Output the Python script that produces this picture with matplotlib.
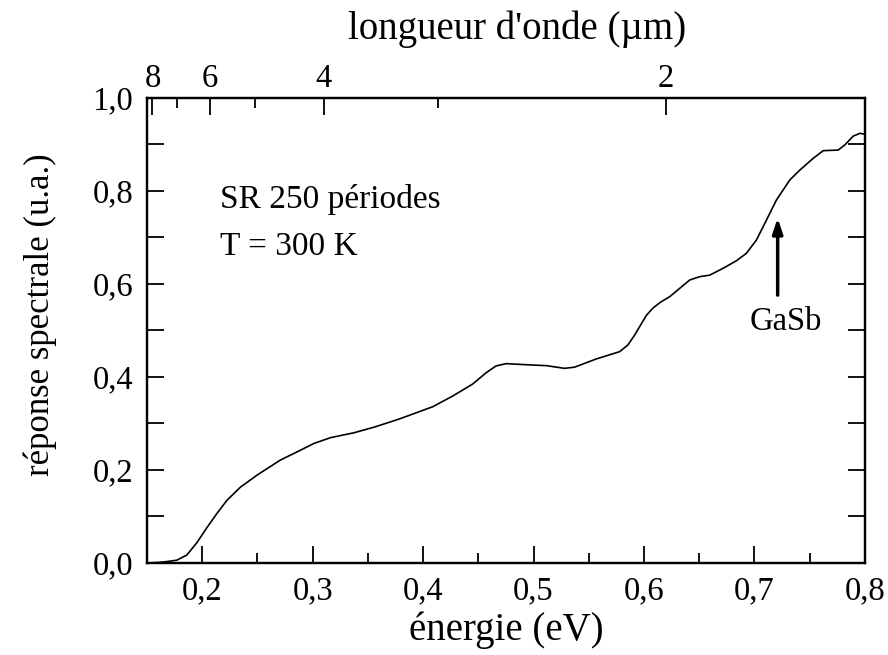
import numpy as np
import matplotlib
matplotlib.use("Agg")
import matplotlib.pyplot as plt
from matplotlib.ticker import MultipleLocator, FixedLocator, NullFormatter

plt.rcParams['font.family'] = ['Liberation Serif', 'DejaVu Serif']

# Spectral response of the superlattice (250 periods, 300 K)
energy_eV = [0.150, 0.160, 0.168, 0.177, 0.186, 0.195, 0.204, 0.2135, 0.2225,
             0.2346, 0.2497, 0.2709, 0.286, 0.3011, 0.3162, 0.3374, 0.3555,
             0.3751, 0.380, 0.4087, 0.4268, 0.445, 0.457, 0.466, 0.4752,
             0.4963, 0.5115, 0.528, 0.537, 0.5567, 0.578, 0.5854, 0.5915,
             0.596, 0.602, 0.608, 0.615, 0.6233, 0.6414, 0.6504, 0.6595,
             0.6716, 0.6837, 0.6927, 0.7018, 0.7109, 0.7199, 0.732, 0.7411,
             0.7531, 0.7622, 0.7758, 0.7818, 0.7894, 0.7955, 0.800]
response = [0.000, 0.001, 0.003, 0.006, 0.017, 0.043, 0.075, 0.107, 0.135,
            0.163, 0.189, 0.2215, 0.239, 0.257, 0.2695, 0.280, 0.292,
            0.307, 0.311, 0.336, 0.359, 0.385, 0.409, 0.4237, 0.4287,
            0.426, 0.4244, 0.4186, 0.421, 0.4387, 0.4545, 0.4688, 0.490,
            0.508, 0.532, 0.548, 0.561, 0.5727, 0.6086, 0.6157, 0.619,
            0.6337, 0.650, 0.666, 0.6946, 0.7376, 0.7806, 0.8237, 0.845,
            0.870, 0.8867, 0.888, 0.899, 0.918, 0.924, 0.922]

# Wavelength ticks for the top axis (µm)
wl_major = [8, 6, 4, 2]
wl_minor = [7, 5, 3]
HC = 1.2398  # eV·µm

y_ticks = [0.0, 0.2, 0.4, 0.6, 0.8, 1.0]
x_ticks = [0.2, 0.3, 0.4, 0.5, 0.6, 0.7, 0.8]

def comma(v, nd=1):
    return f"{v:.{nd}f}".replace('.', ',')

fig = plt.figure(figsize=(8.88, 6.55), dpi=100)
ax = fig.add_axes([0.1655, 0.1405, 0.8085, 0.7099])

ax.plot(energy_eV, response, color='black', lw=1.2)

ax.set_xlim(0.15, 0.80)
ax.set_ylim(0.0, 1.0)

ax.set_xticks(x_ticks)
ax.set_xticklabels([comma(v) for v in x_ticks])
ax.xaxis.set_minor_locator(MultipleLocator(0.05))
ax.set_yticks(y_ticks)
ax.set_yticklabels([comma(v) for v in y_ticks])
ax.yaxis.set_minor_locator(MultipleLocator(0.1))

ax.tick_params(axis='x', which='major', direction='in', length=12, width=1.3,
               labelsize=23.5, pad=9, top=False)
ax.tick_params(axis='x', which='minor', direction='in', length=7, width=1.3,
               top=False)
ax.tick_params(axis='y', which='both', direction='in', length=12, width=1.3,
               labelsize=23.5, pad=10, right=True)

for s in ax.spines.values():
    s.set_linewidth(1.6)

ax.set_xlabel("énergie (eV)", fontsize=28, labelpad=4)
ax.set_ylabel("réponse spectrale (u.a.)", fontsize=25)
ax.yaxis.set_label_coords(-0.125, 0.535)

# Top axis in wavelength
top = ax.twiny()
top.set_xlim(ax.get_xlim())
top.xaxis.set_major_locator(FixedLocator([HC / w for w in wl_major]))
top.xaxis.set_minor_locator(FixedLocator([HC / w for w in wl_minor]))
top.set_xticklabels([str(w) for w in wl_major])
top.xaxis.set_minor_formatter(NullFormatter())
top.tick_params(axis='x', which='major', direction='in', length=12, width=1.3,
                labelsize=23.5, pad=3)
top.tick_params(axis='x', which='minor', direction='in', length=7, width=1.3)
top.set_xlabel("longueur d'onde (µm)", fontsize=28)
top.xaxis.label.set_va('baseline')
# baseline of the top label sits ~59 px above the axes frame
top.xaxis.set_label_coords(0.515, 1.0 + 59 / 465.0)
for s in top.spines.values():
    s.set_linewidth(1.6)

# Sample description
ax.text(0.2162, 0.763, "SR 250 périodes", fontsize=24, ha='left', va='baseline')
ax.text(0.2162, 0.662, "T = 300 K", fontsize=24, ha='left', va='baseline')

# GaSb band-gap marker
ax.annotate("", xy=(0.721, 0.742), xytext=(0.721, 0.576),
            arrowprops=dict(arrowstyle='-|>,head_length=0.9,head_width=0.3',
                            color='black', lw=2.5, shrinkA=0, shrinkB=0))
ax.text(0.728, 0.502, "GaSb", fontsize=23.5, ha='center', va='baseline')

fig.savefig("out.png", dpi=100)
